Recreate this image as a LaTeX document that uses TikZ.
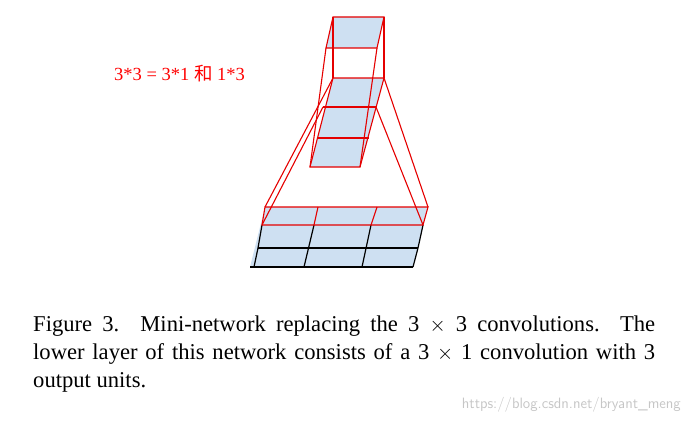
\documentclass[tikz,border=0pt]{standalone}
\usepackage{fontspec}
\setmainfont{Liberation Serif}
\newfontfamily\cjk{Noto Sans CJK SC}
\definecolor{cellc}{RGB}{206,224,242}
\begin{document}
\begin{tikzpicture}[x=1pt,y=-1pt,
  rd/.style={draw=red!90!black, line width=1.1pt},
  bk/.style={draw=black, line width=1.2pt},
  cell/.style={fill=cellc}]
\useasboundingbox (0,0) rectangle (687,420);
% bottom grid fill
\fill[cell] (265,207) -- (428,207) -- (413,267) -- (250,267) -- cycle;
% black lower grid
\draw[bk] (262,225) -- (258,248) -- (254,267);
\draw[bk] (423,225) -- (418,248) -- (413,267);
\draw[bk] (258,248) -- (418,248);
\draw[bk] (250,267) -- (413,267);
\draw[bk] (314,225) -- (304,267);
\draw[bk] (371,225) -- (362,267);
% red top row
\draw[rd] (265,207) -- (428,207) -- (423,225) -- (262,225) -- cycle;
\draw[rd] (318,207) -- (314,225);
\draw[rd] (377,207) -- (371,225);
% funnel lines
\draw[rd] (333,78) -- (265,207);
\draw[rd] (384,78) -- (428,207);
\draw[rd] (323,107) -- (262,225);
\draw[rd] (376,107) -- (423,225);
% middle column
\fill[cell] (333,78) -- (384,78) -- (360,167) -- (310,167) -- cycle;
\draw[rd] (333,78) -- (384,78) -- (360,167) -- (310,167) -- cycle;
\draw[rd] (323,107) -- (376,107);
\draw[rd] (317,138) -- (369,138);
% top square
\fill[cell] (333,17) -- (384,17) -- (377,48) -- (326,48) -- cycle;
\draw[rd] (333,17) -- (384,17) -- (377,48) -- (326,48) -- cycle;
\draw[rd] (333,17) -- (333,78);
\draw[rd] (384,17) -- (384,78);
\draw[rd] (326,48) -- (310,167);
\draw[rd] (377,48) -- (360,167);
% label
\node[anchor=west, text=red, font=\fontsize{18.5}{22}\selectfont, inner sep=0] (lab) at (114,74) {3*3 = 3*1 {\cjk 和} 1*3};
% caption
\node[anchor=north west, inner sep=0, text width=622pt, align=justify,
  font=\fontsize{22.6}{28}\selectfont] (cap) at (33,316)
  {Figure 3. Mini-network replacing the 3 $\times$ 3 convolutions.\ \ The\linebreak lower layer of this network consists of a 3 $\times$ 1 convolution with 3\linebreak output units.};
\node[anchor=east, text=gray!45, font=\fontsize{15}{17}\selectfont\sffamily, inner sep=0] (wm) at (681,405) {https://blog.csdn.net/bryant\_meng};
\end{tikzpicture}
\end{document}
